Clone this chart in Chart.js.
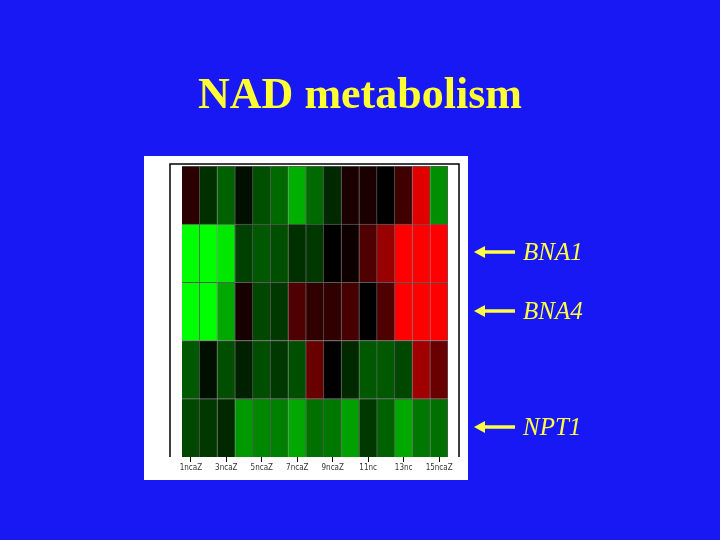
<!DOCTYPE html>
<html>
<head>
<meta charset="utf-8">
<script src="https://cdn.jsdelivr.net/npm/chart.js@4/dist/chart.umd.min.js"></script>
<style>
  html, body { margin: 0; padding: 0; background: #1818f4; }
  #wrap { position: relative; width: 720px; height: 540px; overflow: hidden; }
  #title {
    position: absolute; left: 0; width: 720px; top: 68px;
    text-align: center; color: #ffff33;
    font: bold 44px "Liberation Serif", "Times New Roman", serif;
  }
  canvas { position: absolute; left: 0; top: 0; }
</style>
</head>
<body>
<div id="wrap">
  <canvas id="heat" width="720" height="540"></canvas>
  <div id="title">NAD metabolism</div>
</div>
<script>
// columns of the array (time course), only odd ones get a label
const columnLabels = ['1ncaZ', '2ncaZ', '3ncaZ', '4ncaZ', '5ncaZ', '6ncaZ', '7ncaZ', '8ncaZ',
                      '9ncaZ', '10ncaZ', '11nc', '12nc', '13nc', '14ncaZ', '15ncaZ'];

// expression ratios per gene row, top to bottom (red = up, green = down)
const row1 = [0.17, -0.19, -0.38, -0.06, -0.31, -0.41, -0.69, -0.41, -0.16, 0.10, 0.10, 0.00, 0.25, 0.88, -0.56];
const row2 = [-1.00, -1.00, -0.91, -0.25, -0.35, -0.31, -0.19, -0.22, 0.00, 0.06, 0.31, 0.60, 1.00, 1.00, 1.00];
const row3 = [-1.00, -1.00, -0.66, 0.09, -0.28, -0.22, 0.31, 0.19, 0.19, 0.28, 0.00, 0.31, 1.00, 1.00, 1.00];
const row4 = [-0.35, -0.06, -0.31, -0.13, -0.31, -0.22, -0.31, 0.41, 0.00, -0.16, -0.35, -0.35, -0.28, 0.63, 0.41];
const row5 = [-0.28, -0.22, -0.16, -0.60, -0.53, -0.50, -0.66, -0.44, -0.47, -0.63, -0.22, -0.38, -0.66, -0.47, -0.44];

const rows = [row1, row2, row3, row4, row5];

// genes pointed at by arrows (index into rows)
const geneNames = ['BNA1', 'BNA4', 'NPT1'];
const geneRows = [1, 2, 4];

function ratioColor(v) {
    const c = Math.round(Math.min(1, Math.abs(v)) * 255);
    return v >= 0 ? `rgb(${c},0,0)` : `rgb(0,${c},0)`;
}

// stacked bars: dataset 0 is the bottom row
const datasets = rows.slice().reverse().map((r, i) => ({
    label: 'row' + (rows.length - i),
    data: r.map(() => 1),
    backgroundColor: r.map(ratioColor),
    borderColor: '#5a5a5a',
    borderWidth: { top: 1, right: 1, bottom: 0, left: 0 },
    borderSkipped: false,
    barPercentage: 1,
    categoryPercentage: 1
}));

// white panel, black frame, arrows and gene names
const decor = {
    id: 'decor',
    beforeDraw(chart) {
        const { ctx, chartArea: a } = chart;
        ctx.save();
        ctx.fillStyle = '#ffffff';
        ctx.fillRect(a.left - 38, a.top - 10, a.right - a.left + 58, a.bottom - a.top + 33);
        ctx.restore();
    },
    afterDraw(chart) {
        const { ctx, chartArea: a } = chart;
        const y = chart.scales.y;
        ctx.save();
        ctx.strokeStyle = '#000';
        ctx.lineWidth = 1.5;
        ctx.beginPath();
        ctx.moveTo(a.left - 12, a.bottom);
        ctx.lineTo(a.left - 12, a.top - 2);
        ctx.lineTo(a.right + 11, a.top - 2);
        ctx.lineTo(a.right + 11, a.bottom);
        ctx.stroke();

        ctx.fillStyle = '#ffff44';
        ctx.strokeStyle = '#ffff44';
        ctx.font = 'italic 25px "Liberation Serif", "Times New Roman", serif';
        ctx.textBaseline = 'middle';
        geneRows.forEach((r, i) => {
            const py = Math.round(y.getPixelForValue(rows.length - r - 0.5)) - 1;
            const x0 = a.right + 26;
            ctx.lineWidth = 3.5;
            ctx.beginPath();
            ctx.moveTo(x0 + 8, py);
            ctx.lineTo(x0 + 41, py);
            ctx.stroke();
            ctx.beginPath();
            ctx.moveTo(x0, py);
            ctx.lineTo(x0 + 11, py - 6);
            ctx.lineTo(x0 + 11, py + 6);
            ctx.closePath();
            ctx.fill();
            ctx.fillText(geneNames[i], x0 + 49, py + 1);
        });
        ctx.restore();
    }
};

new Chart(document.getElementById('heat'), {
    type: 'bar',
    data: { labels: columnLabels, datasets: datasets },
    options: {
        responsive: false,
        animation: false,
        layout: { padding: { left: 182, right: 272, top: 166, bottom: 63 } },
        plugins: { legend: { display: false }, tooltip: { enabled: false } },
        scales: {
            x: {
                stacked: true,
                grid: { offset: false, drawOnChartArea: false, drawTicks: true, tickLength: 5, color: '#000' },
                border: { display: false },
                ticks: {
                    autoSkip: false, maxRotation: 0, padding: 1,
                    color: '#333', font: { family: 'DejaVu Sans Condensed', size: 8 },
                    callback: (v, i) => i % 2 === 0 ? columnLabels[i] : null
                },
                afterFit(scale) { scale.height = 20; }
            },
            y: { stacked: true, display: false, min: 0, max: 5 }
        }
    },
    plugins: [decor]
});
</script>
</body>
</html>
